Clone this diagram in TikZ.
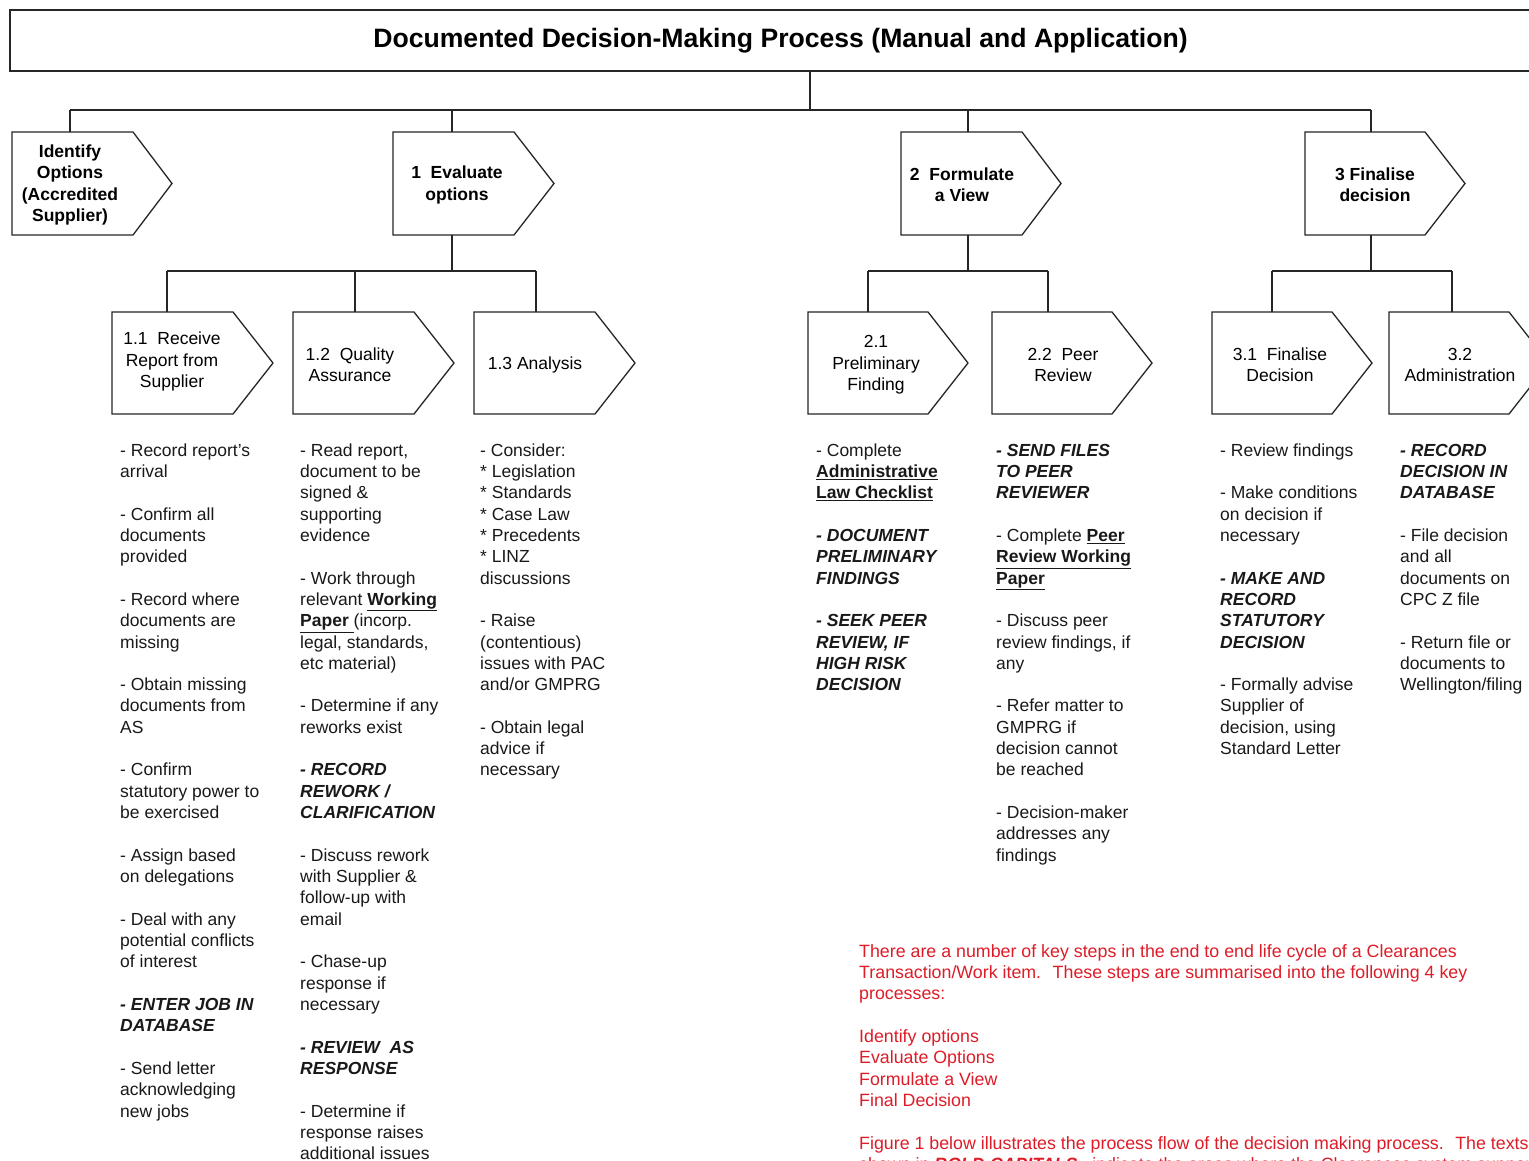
\documentclass[tikz,border=0pt]{standalone}
\usepackage{fontspec}
\setmainfont{Liberation Sans}
\definecolor{redc}{RGB}{222,28,40}
\newcommand\bi[1]{\textbf{\textit{#1}}}
\newcommand\ulb[1]{\underline{\textbf{#1}}}
\newcommand\chev[7]{% name,left,top,rectw,h,tip,connx
  \draw[chevline] (#2,#3) -- ++(#4,0) -- ++(#6,#5/2) -- ++(-#6,#5/2) -- ++(-#4,0) -- cycle;
  \coordinate (#1-in) at (#7,#3);
  \coordinate (#1-out) at (#7,#3+#5);
}
\tikzset{
  chevline/.style={draw=black!85, line width=1.3pt, line join=miter},
  conn/.style={draw=black!85, line width=1.3pt},
  titlebox/.style={draw=black!85, line width=1.6pt, minimum width=1541pt, minimum height=61pt, inner sep=0pt,
    font=\bfseries\fontsize{26.6}{30}\selectfont},
  lblA/.style={align=center, inner sep=0pt, font=\bfseries\fontsize{17.5}{21.3}\selectfont},
  lblB/.style={align=center, inner sep=0pt, font=\fontsize{17.5}{21.3}\selectfont},
  col/.style={align=left, anchor=north west, inner sep=0pt, font=\fontsize{17.5}{21.32}\selectfont, text=black!90},
  redtxt/.style={col, text=redc, font=\fontsize{17.8}{21.32}\selectfont},
}
\begin{document}
\begin{tikzpicture}[x=1pt,y=-1pt]
\useasboundingbox (0,0) rectangle (1529,1161);
\fill[white] (0,0) rectangle (1529,1161);
\clip (0,0) rectangle (1529,1161);

% title
\node[titlebox] (title) at (780.5,40.5) {\raisebox{-1.5pt}{Documented Decision-Making Process (Manual and Application)}};
\coordinate (hub) at (810,110);
\draw[conn] (title.south -| hub) -- (hub);

% level 1
\chev{id}{12}{132}{121}{103}{39}{70}
\chev{ev}{393}{132}{121}{103}{40}{452}
\chev{fo}{901}{132}{121}{103}{39}{968}
\chev{fi}{1305}{132}{120}{103}{40}{1371}

\draw[conn] (id-in |- hub) -- (fi-in |- hub);
\draw[conn] (id-in |- hub) -- (id-in);
\draw[conn] (ev-in |- hub) -- (ev-in);
\draw[conn] (fo-in |- hub) -- (fo-in);
\draw[conn] (fi-in |- hub) -- (fi-in);

\node[lblA] (idl) at (70,185) {Identify\\Options\\(Accredited\\Supplier)};
\node[lblA] (evl) at (457,185) {1~ Evaluate\\options};
\node[lblA] (fol) at (962,184.5) {2~ Formulate\\a View};
\node[lblA] (fil) at (1375,184.5) {3 Finalise\\decision};

% level 2
\chev{a11}{112}{312}{121}{102}{40}{167}
\chev{a12}{293}{312}{121}{102}{40}{355}
\chev{a13}{474}{312}{121}{102}{40}{536}
\chev{b21}{808}{312}{120}{102}{40}{868}
\chev{b22}{992}{312}{120}{102}{40}{1048}
\chev{c31}{1212}{312}{120}{102}{40}{1272}
\chev{c32}{1389}{312}{120}{102}{40}{1452}

\coordinate (busy) at (0,271);
\draw[conn] (ev-out) -- (ev-out |- busy);
\draw[conn] (a11-in |- busy) -- (a13-in |- busy);
\draw[conn] (a11-in |- busy) -- (a11-in);
\draw[conn] (a12-in |- busy) -- (a12-in);
\draw[conn] (a13-in |- busy) -- (a13-in);

\draw[conn] (fo-out) -- (fo-out |- busy);
\draw[conn] (b21-in |- busy) -- (b22-in |- busy);
\draw[conn] (b21-in |- busy) -- (b21-in);
\draw[conn] (b22-in |- busy) -- (b22-in);

\draw[conn] (fi-out) -- (fi-out |- busy);
\draw[conn] (c31-in |- busy) -- (c32-in |- busy);
\draw[conn] (c31-in |- busy) -- (c31-in);
\draw[conn] (c32-in |- busy) -- (c32-in);

\node[lblB] (l11) at (172,361.5) {1.1~ Receive\\Report from\\Supplier};
\node[lblB] (l12) at (350,365) {1.2~ Quality\\Assurance};
\node[lblB] (l13) at (535,365) {1.3 Analysis};
\node[lblB] (l21) at (876,365) {2.1\\Preliminary\\Finding};
\node[lblB] (l22) at (1063,365) {2.2~ Peer\\Review};
\node[lblB] (l31) at (1280,365) {3.1~ Finalise\\Decision};
\node[lblB] (l32) at (1460,365) {3.2\\Administration};

% text columns
\node[col] (t11) at (120,441) {\strut- Record report's\\
arrival\\[21.32pt]
- Confirm all\\
documents\\
provided\\[21.32pt]
- Record where\\
documents are\\
missing\\[21.32pt]
- Obtain missing\\
documents from\\
AS\\[21.32pt]
- Confirm\\
statutory power to\\
be exercised\\[21.32pt]
- Assign based\\
on delegations\\[21.32pt]
- Deal with any\\
potential conflicts\\
of interest\\[21.32pt]
\bi{- ENTER JOB IN}\\
\bi{DATABASE}\\[21.32pt]
- Send letter\\
acknowledging\\
new jobs};

\node[col] (t12) at (300,441) {\strut- Read report,\\
document to be\\
signed \&\\
supporting\\
evidence\\[21.32pt]
- Work through\\
relevant \ulb{Working}\\
\ulb{Paper }(incorp.\\
legal, standards,\\
etc material)\\[21.32pt]
- Determine if any\\
reworks exist\\[21.32pt]
\bi{- RECORD}\\
\bi{REWORK /}\\
\bi{CLARIFICATION}\\[21.32pt]
- Discuss rework\\
with Supplier \&\\
follow-up with\\
email\\[21.32pt]
- Chase-up\\
response if\\
necessary\\[21.32pt]
\bi{- REVIEW~ AS}\\
\bi{RESPONSE}\\[21.32pt]
- Determine if\\
response raises\\
additional issues};

\node[col] (t13) at (480,441) {\strut- Consider:\\
\relax* Legislation\\
\relax* Standards\\
\relax* Case Law\\
\relax* Precedents\\
\relax* LINZ\\
discussions\\[21.32pt]
- Raise\\
(contentious)\\
issues with PAC\\
and/or GMPRG\\[21.32pt]
- Obtain legal\\
advice if\\
necessary};

\node[col] (t21) at (816,441) {\strut- Complete\\
\ulb{Administrative}\\
\ulb{Law Checklist}\\[21.32pt]
\bi{- DOCUMENT}\\
\bi{PRELIMINARY}\\
\bi{FINDINGS}\\[21.32pt]
\bi{- SEEK PEER}\\
\bi{REVIEW, IF}\\
\bi{HIGH RISK}\\
\bi{DECISION}};

\node[col] (t22) at (996,441) {\strut\bi{- SEND FILES}\\
\bi{TO PEER}\\
\bi{REVIEWER}\\[21.32pt]
- Complete \ulb{Peer}\\
\ulb{Review Working}\\
\ulb{Paper}\\[21.32pt]
- Discuss peer\\
review findings, if\\
any\\[21.32pt]
- Refer matter to\\
GMPRG if\\
decision cannot\\
be reached\\[21.32pt]
- Decision-maker\\
addresses any\\
findings};

\node[col] (t31) at (1220,441) {\strut- Review findings\\[21.32pt]
- Make conditions\\
on decision if\\
necessary\\[21.32pt]
\bi{- MAKE AND}\\
\bi{RECORD}\\
\bi{STATUTORY}\\
\bi{DECISION}\\[21.32pt]
- Formally advise\\
Supplier of\\
decision, using\\
Standard Letter};

\node[col] (t32) at (1400,441) {\strut\bi{- RECORD}\\
\bi{DECISION IN}\\
\bi{DATABASE}\\[21.32pt]
- File decision\\
and all\\
documents on\\
CPC Z file\\[21.32pt]
- Return file or\\
documents to\\
Wellington/filing};

% red note
\node[redtxt] (note) at (859,942) {\strut There are a number of key steps in the end to end life cycle of a Clearances\\
Transaction/Work item.~ These steps are summarised into the following 4 key\\
processes:\\[21.32pt]
Identify options\\
Evaluate Options\\
Formulate a View\\
Final Decision\\[21.32pt]
Figure 1 below illustrates the process flow of the decision making process.~ The texts\\
shown in \bi{BOLD CAPITALS},~ indicate the areas where the Clearances system supports};
\end{tikzpicture}
\end{document}
